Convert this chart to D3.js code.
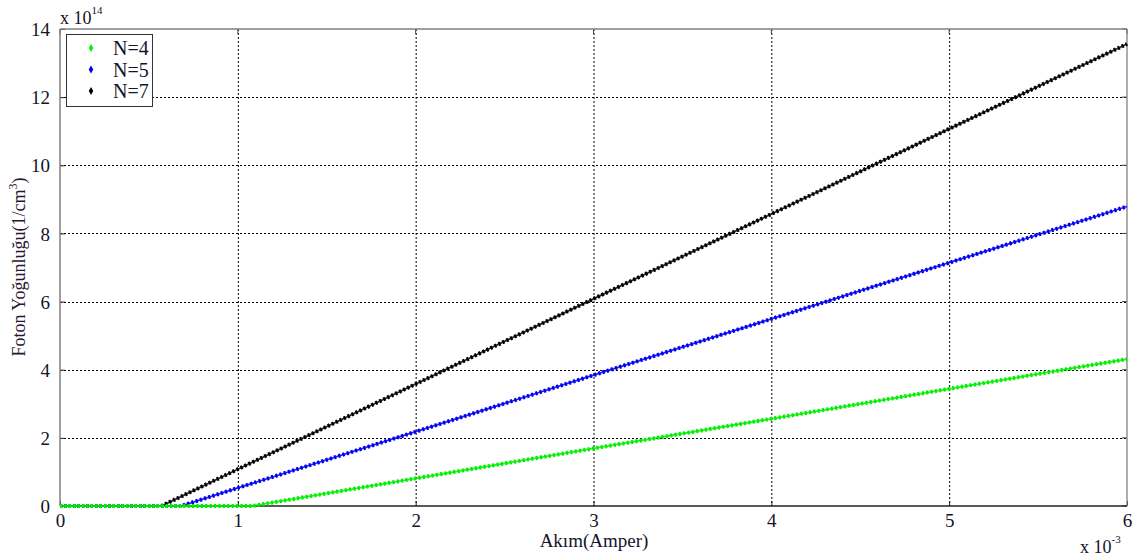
<!DOCTYPE html>
<html>
<head>
<meta charset="utf-8">
<script src="https://cdn.jsdelivr.net/npm/d3@7"></script>
<style>
  html, body { margin: 0; padding: 0; background: #fff; }
  svg text { font-family: "Liberation Serif", "Times New Roman", Times, "DejaVu Serif", serif; }
</style>
</head>
<body>
<svg id="chart" width="1137" height="557"></svg>
<script>
// ---- data (x in 10^-3 A, y in 10^14 1/cm^3) ----
const seriesNames = ["N=4", "N=5", "N=7"];
const seriesColors = ["#00ee00", "#0000ee", "#000000"];
const xN4 = [0, 0.5, 1.0, 1.08, 2, 3, 4, 5, 6];
const yN4 = [0, 0, 0, 0, 0.81, 1.69, 2.56, 3.44, 4.31];
const xN5 = [0, 0.5, 0.68, 1, 2, 3, 4, 5, 6];
const yN5 = [0, 0, 0, 0.53, 2.18, 3.84, 5.49, 7.14, 8.79];
const xN7 = [0, 0.5, 0.57, 1, 2, 3, 4, 5, 6];
const yN7 = [0, 0, 0, 1.08, 3.58, 6.08, 8.57, 11.07, 13.56];
const xTicks = [0, 1, 2, 3, 4, 5, 6];
const yTicks = [0, 2, 4, 6, 8, 10, 12, 14];
const xLabel = "Akım(Amper)";
const yLabel = "Foton Yoğunluğu(1/cm";

const svg = d3.select("#chart");
const L = 60, R = 1127, T = 29, B = 506;
const x = d3.scaleLinear().domain([0, 6]).range([L, R]);
const y = d3.scaleLinear().domain([0, 14]).range([B, T]);
const textCol = "#14142a";

// grid
const grid = svg.append("g");
grid.selectAll("line.gx").data(xTicks.slice(1, -1)).enter().append("line")
  .attr("x1", d => x(d) + 0.5).attr("x2", d => x(d) + 0.5)
  .attr("y1", T).attr("y2", B)
  .attr("stroke", "#000").attr("stroke-width", 1).attr("stroke-dasharray", "2,2");
grid.selectAll("line.gy").data(yTicks.slice(1, -1)).enter().append("line")
  .attr("y1", d => Math.round(y(d)) + 0.5).attr("y2", d => Math.round(y(d)) + 0.5)
  .attr("x1", L).attr("x2", R)
  .attr("stroke", "#000").attr("stroke-width", 1).attr("stroke-dasharray", "2,2");

// axes
const xAxis = d3.axisBottom(x).tickValues(xTicks).tickFormat(d3.format("d")).tickSizeInner(-5).tickSizeOuter(0).tickPadding(7);
const yAxis = d3.axisLeft(y).tickValues(yTicks).tickFormat(d3.format("d")).tickSizeInner(-5).tickSizeOuter(0).tickPadding(10);
const gx = svg.append("g").attr("transform", `translate(0,${B})`).call(xAxis);
const gy = svg.append("g").attr("transform", `translate(${L},0)`).call(yAxis);
gx.select(".domain").remove(); gy.select(".domain").remove();
[gx, gy].forEach(g => {
  g.selectAll("text").attr("font-size", 19).attr("fill", textCol).attr("font-family", null);
  g.selectAll(".tick line").attr("stroke", "#222");
});
gx.selectAll("text").attr("dy", "0.75em");
gy.selectAll("text").attr("dy", "0.35em");
// top/right mirrored ticks
const gt = svg.append("g");
gt.selectAll("line.tx").data(xTicks).enter().append("line")
  .attr("x1", d => x(d)).attr("x2", d => x(d)).attr("y1", T).attr("y2", T + 5).attr("stroke", "#444");
gt.selectAll("line.ty").data(yTicks).enter().append("line")
  .attr("y1", d => y(d)).attr("y2", d => y(d)).attr("x1", R).attr("x2", R - 5).attr("stroke", "#444");

// box
svg.append("line").attr("x1", L).attr("x2", R).attr("y1", T).attr("y2", T).attr("stroke", "#808080").attr("stroke-width", 1.3);
svg.append("line").attr("x1", L).attr("x2", L).attr("y1", T).attr("y2", B).attr("stroke", "#808080").attr("stroke-width", 1.5);
svg.append("line").attr("x1", R).attr("x2", R).attr("y1", T).attr("y2", B).attr("stroke", "#808080").attr("stroke-width", 1.3);
svg.append("line").attr("x1", L).attr("x2", R).attr("y1", B).attr("y2", B).attr("stroke", "#222").attr("stroke-width", 1.5);

// series
const series = [
  { name: seriesNames[2], color: seriesColors[2], xs: xN7, ys: yN7 },
  { name: seriesNames[1], color: seriesColors[1], xs: xN5, ys: yN5 },
  { name: seriesNames[0], color: seriesColors[0], xs: xN4, ys: yN4 },
];
const line = d3.line().x(d => x(d[0])).y(d => y(d[1]));
series.forEach(s => {
  const pts = s.xs.map((v, i) => [v, s.ys[i]]);
  svg.append("path").attr("d", line(pts)).attr("fill", "none")
    .attr("stroke", s.color).attr("stroke-width", 1.8).attr("opacity", 0.85);
  svg.append("path").attr("d", line(pts)).attr("fill", "none")
    .attr("stroke", s.color).attr("stroke-width", 4).attr("stroke-dasharray", "2.2,2.2");
});

// legend
const lg = svg.append("g");
lg.append("rect").attr("x", 66.5).attr("y", 34.5).attr("width", 86).attr("height", 72)
  .attr("fill", "#fff").attr("stroke", "#333").attr("stroke-width", 1);
seriesNames.forEach((n, i) => {
  const cy = 48 + i * 21.5;
  lg.append("path").attr("d", d3.symbol().type(d3.symbolDiamond).size(18)())
    .attr("transform", `translate(91,${cy})`).attr("fill", seriesColors[i]);
  lg.append("text").attr("x", 113).attr("y", cy + 7).attr("font-size", 20).attr("fill", textCol).text(n);
});

// exponent labels
const e1 = svg.append("text").attr("x", 60).attr("y", 24).attr("font-size", 18).attr("fill", textCol);
e1.append("tspan").text("x 10");
e1.append("tspan").attr("font-size", 11).attr("dy", -10).text("14");
const e2 = svg.append("text").attr("x", 1080).attr("y", 553).attr("font-size", 18).attr("fill", textCol);
e2.append("tspan").text("x 10");
e2.append("tspan").attr("font-size", 11).attr("dy", -10).text("-3");

// axis labels
svg.append("text").attr("x", 594).attr("y", 547).attr("text-anchor", "middle")
  .attr("font-size", 19).attr("fill", textCol).text(xLabel);
const yl = svg.append("text").attr("transform", "translate(25,267) rotate(-90)")
  .attr("text-anchor", "middle").attr("font-size", 18).attr("fill", "#2a1530");
yl.append("tspan").text(yLabel);
yl.append("tspan").attr("font-size", 12).attr("dy", -8).text("3");
yl.append("tspan").attr("dy", 8).text(")");
</script>
</body>
</html>
